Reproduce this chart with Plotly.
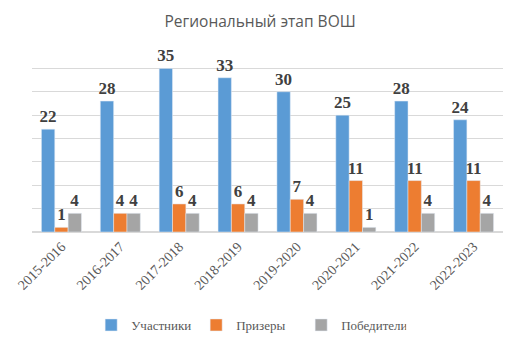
import plotly.graph_objects as go

categories = ["2015-2016", "2016-2017", "2017-2018", "2018-2019",
              "2019-2020", "2020-2021", "2021-2022", "2022-2023"]
participants = [22, 28, 35, 33, 30, 25, 28, 24]
prize_winners = [1, 4, 6, 6, 7, 11, 11, 11]
winners = [4, 4, 4, 4, 4, 1, 4, 4]

series = [
    ("Участники", participants, "#5B9BD5"),
    ("Призеры", prize_winners, "#ED7D31"),
    ("Победители", winners, "#A5A5A5"),
]

SERIF = "Liberation Serif, Times New Roman, serif"

fig = go.Figure()
for name, vals, color in series:
    fig.add_trace(go.Bar(
        x=categories, y=vals, name=name, marker_color=color,
        text=vals, textposition="outside", cliponaxis=False,
        constraintext="none",
        textfont=dict(family=SERIF, size=17, color="#404040"),
        texttemplate="<b>%{text}</b>",
    ))

fig.update_layout(
    width=510, height=343,
    margin=dict(l=32, r=7, t=45, b=111),
    paper_bgcolor="white", plot_bgcolor="white",
    barmode="group", bargap=0.32, bargroupgap=0,
    title=dict(text="Региональный этап ВОШ", x=0.51, xanchor="center",
               y=1 - 22 / 343, yanchor="middle",
               font=dict(family="Open Sans", size=15.5, color="#595959")),
    showlegend=True,
    legend=dict(orientation="h", x=0.46, xanchor="center",
                yref="container", y=1 - 325 / 343, yanchor="middle",
                font=dict(family=SERIF, size=13, color="#595959"),
                itemwidth=30, entrywidth=60, entrywidthmode="pixels",
                tracegroupgap=0),
    xaxis=dict(tickangle=-45, showgrid=False, showline=True,
               linecolor="#D9D9D9", linewidth=1, ticks="",
               tickfont=dict(family=SERIF, size=14, color="#595959")),
    yaxis=dict(range=[0, 40], dtick=5, showticklabels=False,
               gridcolor="#D9D9D9", gridwidth=1, zeroline=True,
               zerolinecolor="#D9D9D9", showline=False, ticks=""),
)

fig.write_html("out.html")
